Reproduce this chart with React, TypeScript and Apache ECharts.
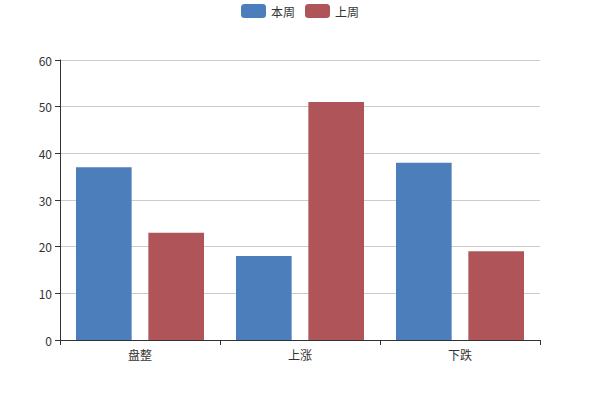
import React, { useEffect, useRef } from "react";
import * as echarts from "echarts";

const categories = ["盘整", "上涨", "下跌"];
const thisWeek = [37, 18, 38];
const lastWeek = [23, 51, 19];
const seriesNames = ["本周", "上周"];

export default function App() {
  const ref = useRef<HTMLDivElement>(null);
  useEffect(() => {
    document.body.style.margin = "0";
    if (!ref.current) return;
    const chart = echarts.init(ref.current, null, { renderer: "svg" });
    chart.setOption({
      animation: false,
      textStyle: { fontFamily: "'Noto Sans CJK SC', sans-serif" },
      legend: {
        top: 4,
        left: "center",
        padding: 0,
        itemWidth: 25,
        itemHeight: 14,
        itemGap: 10,
        icon: "roundRect",
        textStyle: { color: "#333", fontSize: 12, lineHeight: 14 },
        data: seriesNames,
      },
      grid: { left: 60, right: 60, top: 60, bottom: 60, containLabel: false },
      xAxis: {
        type: "category",
        data: categories,
        axisLine: { lineStyle: { color: "#333" } },
        axisTick: { show: true, length: 5, lineStyle: { color: "#333" } },
        axisLabel: { color: "#333", fontSize: 12 },
      },
      yAxis: {
        type: "value",
        min: 0,
        max: 60,
        interval: 10,
        axisLine: { show: true, lineStyle: { color: "#333" } },
        axisTick: { show: true, length: 5, lineStyle: { color: "#333" } },
        axisLabel: { color: "#333", fontSize: 12 },
        splitLine: { lineStyle: { color: "#ccc" } },
      },
      series: [
        {
          name: seriesNames[0],
          type: "bar",
          data: thisWeek,
          barGap: "30%",
          barCategoryGap: "20%",
          itemStyle: { color: "#4c7ebb" },
        },
        {
          name: seriesNames[1],
          type: "bar",
          data: lastWeek,
          barGap: "30%",
          barCategoryGap: "20%",
          itemStyle: { color: "#af5458" },
        },
      ],
    });
    return () => chart.dispose();
  }, []);
  return <div ref={ref} style={{ width: 600, height: 400 }} />;
}
